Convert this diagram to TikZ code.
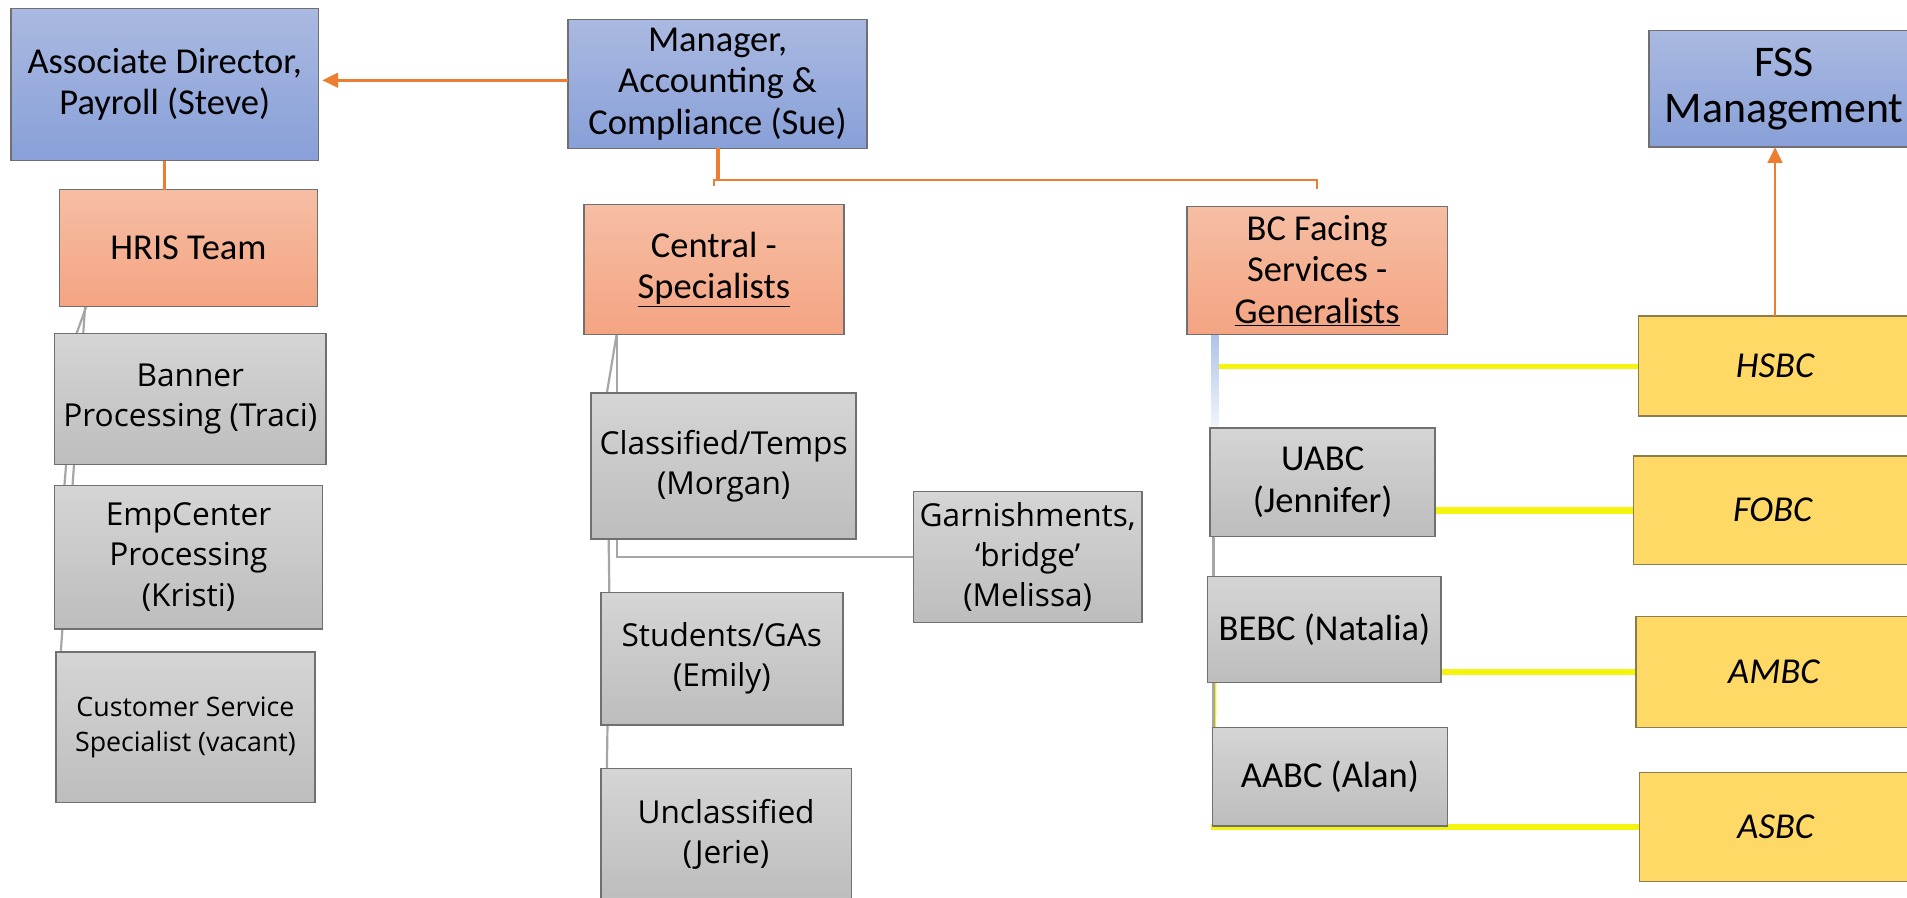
\documentclass[tikz,border=0pt]{standalone}
\usepackage{fontspec}
\setmainfont{Carlito}
\newfontfamily\wideSans{Open Sans}
\usetikzlibrary{arrows.meta,backgrounds}

\definecolor{blueTop}{HTML}{AAB9E1}
\definecolor{blueBot}{HTML}{88A0D8}
\definecolor{orTop}{HTML}{F6BEA4}
\definecolor{orBot}{HTML}{F4A482}
\definecolor{grTop}{HTML}{D5D5D5}
\definecolor{grBot}{HTML}{BDBDBD}
\definecolor{gold}{HTML}{FFD966}
\definecolor{goldEdge}{HTML}{8C7C4E}
\definecolor{boxEdge}{HTML}{707070}
\definecolor{linkOrange}{HTML}{ED7D31}
\definecolor{linkGrey}{HTML}{A6A6A6}
\definecolor{linkYellow}{HTML}{F4F40E}
\definecolor{linkBlue}{HTML}{ADC3E8}

\tikzset{
  box/.style={draw=boxEdge, line width=1.2pt, anchor=north west, inner sep=2pt,
              outer sep=0pt, align=center, text=black},
  bluebox/.style={box, top color=blueTop, bottom color=blueBot,
                  font=\fontsize{30}{34}\selectfont},
  headbox/.style={bluebox, font=\fontsize{36}{38}\selectfont},
  orangebox/.style={box, top color=orTop, bottom color=orBot,
                    font=\fontsize{30}{34}\selectfont},
  greybox/.style={box, top color=grTop, bottom color=grBot,
                  font=\fontsize{30}{34}\selectfont},
  widegrey/.style={greybox, font=\wideSans\fontsize{26}{33}\selectfont},
  smallgrey/.style={greybox, font=\wideSans\fontsize{22}{29}\selectfont},
  goldbox/.style={box, draw=goldEdge, fill=gold,
                  font=\itshape\fontsize{30}{34}\selectfont},
  orline/.style={draw=linkOrange, line width=2.2pt},
  orarrow/.style={orline, -{Triangle[length=13pt,width=12pt]}},
  gline/.style={draw=linkGrey, line width=1.8pt},
  yline/.style={draw=linkYellow, line width=4.5pt}
}

\begin{document}
\begin{tikzpicture}[x=1pt, y=-1pt]
  \useasboundingbox (0,0) rectangle (1568,738);
  \begin{scope}[on background layer]
    \fill[white] (0,0) rectangle (1568,738);
  \end{scope}
  \clip (0,0) rectangle (1568,738);

  % management boxes
  \node[bluebox, minimum width=253pt, minimum height=125pt] (ad) at (9,7)
    {Associate Director,\\Payroll (Steve)};
  \node[bluebox, minimum width=246pt, minimum height=106pt] (mgr) at (467,16)
    {Manager,\\Accounting \&\\Compliance (Sue)};
  \node[headbox, minimum width=222pt, minimum height=96pt] (fss) at (1356,25)
    {FSS\\Management};

  % team heads
  \node[orangebox, minimum width=212pt, minimum height=96pt] (hris) at (49,156)
    {HRIS Team};
  \node[orangebox, minimum width=214pt, minimum height=107pt] (central) at (480,168)
    {Central -\\\underline{Specialists}};
  \node[orangebox, minimum width=214pt, minimum height=105pt] (bcf) at (976,170)
    {BC Facing\\Services -\\\underline{Generalists}};

  % HRIS team members
  \node[widegrey, minimum width=223pt, minimum height=108pt] (banner) at (45,274)
    {Banner\\Processing (Traci)};
  \node[widegrey, minimum width=220pt, minimum height=118pt] (emp) at (45,399)
    {EmpCenter\\Processing\\(Kristi)};
  \node[smallgrey, minimum width=213pt, minimum height=124pt] (css) at (46,536)
    {Customer Service\\Specialist (vacant)};

  % central specialists
  \node[widegrey, minimum width=218pt, minimum height=120pt] (cls) at (486,323)
    {Classified/Temps\\(Morgan)};
  \node[widegrey, minimum width=188pt, minimum height=108pt] (garn) at (751,404)
    {Garnishments,\\‘bridge’\\(Melissa)};
  \node[widegrey, minimum width=199pt, minimum height=109pt] (stu) at (494,487)
    {Students/GAs\\(Emily)};
  \node[widegrey, minimum width=206pt, minimum height=108pt] (uncl) at (494,632)
    {Unclassified\\(Jerie)};

  % generalists
  \node[greybox, minimum width=185pt, minimum height=89pt] (uabc) at (995,352)
    {UABC\\(Jennifer)};
  \node[greybox, minimum width=192pt, minimum height=87pt] (bebc) at (993,474)
    {BEBC (Natalia)};
  \node[greybox, minimum width=193pt, minimum height=81pt] (aabc) at (997,598)
    {AABC (Alan)};

  % business centers
  \node[goldbox, minimum width=225pt, minimum height=82pt] (hsbc) at (1347,260) {HSBC};
  \node[goldbox, minimum width=229pt, minimum height=89pt] (fobc) at (1343,375) {FOBC};
  \node[goldbox, minimum width=227pt, minimum height=91pt] (ambc) at (1345,507) {AMBC};
  \node[goldbox, minimum width=224pt, minimum height=90pt] (asbc) at (1348,635) {ASBC};

  % reporting lines
  \draw[orarrow, shorten >=3pt] ([yshift=3pt]mgr.west) -- ([yshift=3pt]mgr.west -| ad.east);
  \draw[orline] (ad.south) -- (ad.south |- hris.north);
  \draw[orline, line width=3.2pt] (mgr.south) -- (mgr.south |- 0,148);
  \draw[orline] (central.north |- 0,153) -- (central.north |- 0,148)
                -- (bcf.north |- 0,148) -- (bcf.north |- 0,155);
  \draw[orarrow] (hsbc.north) -- (hsbc.north |- fss.south);

  \begin{scope}[on background layer]
    % HRIS team links
    \draw[gline] ([xshift=21pt]hris.south west) -- ([xshift=4pt]css.north west);
    \draw[gline] ([xshift=22pt]hris.south west) -- ([xshift=18pt]banner.north west)
                 -- ([xshift=8pt]emp.north west);
    % central specialist links
    \draw[gline] ([xshift=27pt]central.south west) -- ([xshift=13pt]cls.north west)
                 -- ([xshift=7pt]stu.north west) -- ([xshift=5pt]uncl.north west);
    \draw[gline] ([xshift=27pt]central.south west) |- (garn.west);
    % generalist links
    \shade[top color=linkBlue, bottom color=linkBlue!15]
      ([xshift=20pt]bcf.south west) rectangle ([xshift=7pt]uabc.north west);
    \coordinate (bcx) at (1002,0);
    \draw[yline, line width=4pt] (bcx |- hsbc.west) -- (hsbc.west);
    \draw[yline, line width=6pt] (fobc.west -| uabc.east) -- (fobc.west);
    \draw[yline] (ambc.west -| bebc.east) -- (ambc.west);
    \draw[linkYellow, line width=2.5pt] ([xshift=6pt]bebc.south west) -- ([xshift=1pt]asbc.west -| aabc.west);
    \draw[yline] ([xshift=-1pt]asbc.west -| aabc.west) -- (asbc.west);
    \draw[gline, line width=2.5pt] ([xshift=3pt]uabc.south west) -- ([xshift=1pt]aabc.north west);
  \end{scope}
\end{tikzpicture}
\end{document}
